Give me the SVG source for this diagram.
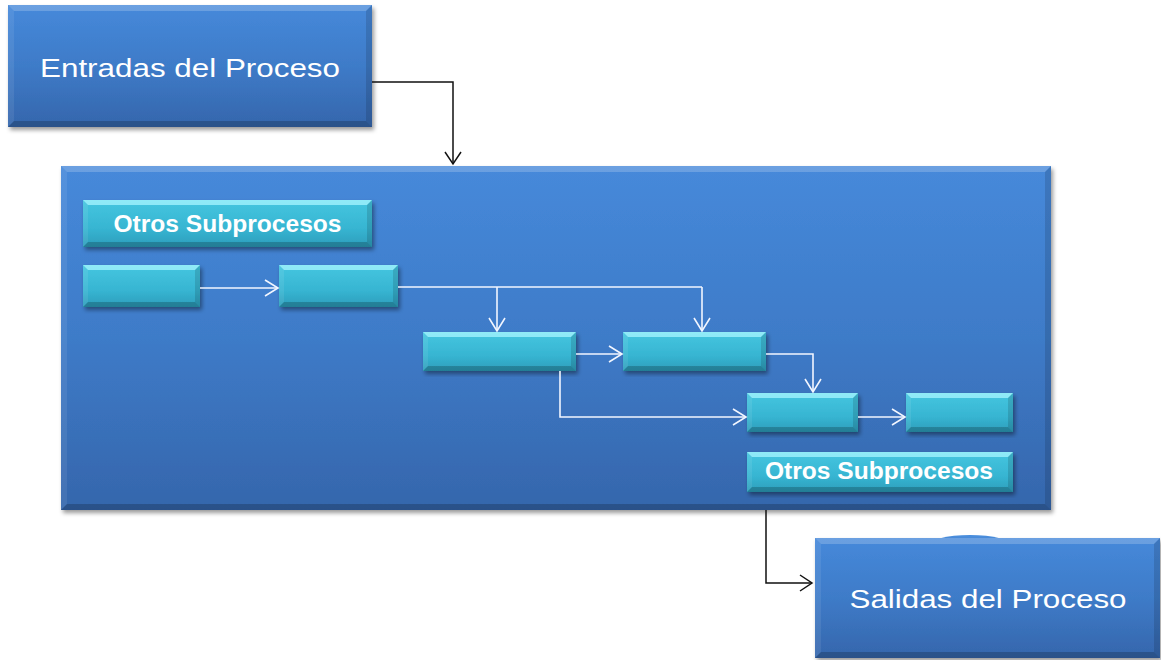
<svg xmlns="http://www.w3.org/2000/svg" width="1161" height="660" viewBox="0 0 1161 660">
  <defs>
    <linearGradient id="gBlue" x1="0" y1="0" x2="0" y2="1">
      <stop offset="0" stop-color="#4689DA"/>
      <stop offset="0.5" stop-color="#3E7BC8"/>
      <stop offset="1" stop-color="#3566AC"/>
    </linearGradient>
    <linearGradient id="gCyan" x1="0" y1="0" x2="0" y2="1">
      <stop offset="0" stop-color="#45C6E0"/>
      <stop offset="0.6" stop-color="#37B5D2"/>
      <stop offset="1" stop-color="#2C9DBB"/>
    </linearGradient>
    <filter id="shadow" x="-5%" y="-10%" width="110%" height="125%">
      <feDropShadow dx="2" dy="3" stdDeviation="2" flood-color="#000" flood-opacity="0.4"/>
    </filter>
    <marker id="arrowK" viewBox="-14 -9 16 18" markerWidth="16" markerHeight="18" refX="0" refY="0" orient="auto" markerUnits="userSpaceOnUse">
      <path d="M-12,-8 L0,0 L-12,8" fill="none" stroke="#111" stroke-width="1.5"/>
    </marker>
    <marker id="arrowW" viewBox="-15 -10 17 20" markerWidth="17" markerHeight="20" refX="0" refY="0" orient="auto" markerUnits="userSpaceOnUse">
      <path d="M-13,-8 L0,0 L-13,8" fill="none" stroke="#F2F6FF" stroke-width="1.6"/>
    </marker>
  </defs>
  <style>
    .blue { fill: url(#gBlue); }
    .cyan { fill: url(#gCyan); }
    .sh { filter: url(#shadow); }
    .bt { fill: #FFFFFF; fill-opacity: 0.20; }
    .bl { fill: #FFFFFF; fill-opacity: 0.08; }
    .br { fill: #000000; fill-opacity: 0.13; }
    .bb { fill: #000000; fill-opacity: 0.20; }
    .cbt { fill: #A8F6FF; fill-opacity: 0.75; }
    .big { font-family: "Liberation Sans", Arial, sans-serif; font-size: 26.5px; fill: #FFFFFF; text-anchor: middle; }
    .sub { font-family: "Liberation Sans", Arial, sans-serif; font-size: 23px; font-weight: bold; fill: #FFFFFF; text-anchor: middle; }
    .lk { fill: none; stroke: #111; stroke-width: 1.5; marker-end: url(#arrowK); }
    .lw { fill: none; stroke: #F2F6FF; stroke-width: 1.6; }
    .lwa { fill: none; stroke: #F2F6FF; stroke-width: 1.6; marker-end: url(#arrowW); }
  </style>

  <!-- input box -->
  <g id="entradas">
    <rect class="blue sh" x="8" y="5" width="364" height="122"/>
    <polygon class="bt" points="8,5 372,5 366,11 14,11"/>
    <polygon class="bl" points="8,5 14,11 14,121 8,127"/>
    <polygon class="br" points="372,5 372,127 366,121 366,11"/>
    <polygon class="bb" points="8,127 372,127 366,121 14,121"/>
    <text class="big" x="190" y="77" textLength="300" lengthAdjust="spacingAndGlyphs">Entradas del Proceso</text>
  </g>

  <!-- process container -->
  <g id="proceso">
    <rect class="blue sh" x="61" y="166" width="990" height="344"/>
    <polygon class="bt" points="61,166 1051,166 1045,172 67,172"/>
    <polygon class="bl" points="61,166 67,172 67,504 61,510"/>
    <polygon class="br" points="1051,166 1051,510 1045,504 1045,172"/>
    <polygon class="bb" points="61,510 1051,510 1045,504 67,504"/>
  </g>

  <!-- output box -->
  <g id="salidas">
    <ellipse cx="970" cy="546" rx="42" ry="11" fill="#4A8EDD"/>
    <rect class="blue sh" x="815" y="538" width="345" height="120"/>
    <polygon class="bt" points="815,538 1160,538 1154,544 821,544"/>
    <polygon class="bl" points="815,538 821,544 821,652 815,658"/>
    <polygon class="br" points="1160,538 1160,658 1154,652 1154,544"/>
    <polygon class="bb" points="815,658 1160,658 1154,652 821,652"/>
    <text class="big" x="988" y="608" textLength="277" lengthAdjust="spacingAndGlyphs">Salidas del Proceso</text>
  </g>

  <!-- subprocess boxes -->
  <g id="otros-1">
    <rect class="cyan sh" x="83" y="200" width="289" height="47"/>
    <polygon class="cbt" points="83,200 372,200 367,205 88,205"/>
    <polygon class="bl" points="83,200 88,205 88,242 83,247"/>
    <polygon class="br" points="372,200 372,247 367,242 367,205"/>
    <polygon class="bb" points="83,247 372,247 367,242 88,242"/>
    <text class="sub" x="227.5" y="232" textLength="228" lengthAdjust="spacingAndGlyphs">Otros Subprocesos</text>
  </g>

  <g id="paso-1">
    <rect class="cyan sh" x="83" y="265" width="117" height="42"/>
    <polygon class="cbt" points="83,265 200,265 195,270 88,270"/>
    <polygon class="bl" points="83,265 88,270 88,302 83,307"/>
    <polygon class="br" points="200,265 200,307 195,302 195,270"/>
    <polygon class="bb" points="83,307 200,307 195,302 88,302"/>
  </g>

  <g id="paso-2">
    <rect class="cyan sh" x="279" y="265" width="119" height="42"/>
    <polygon class="cbt" points="279,265 398,265 393,270 284,270"/>
    <polygon class="bl" points="279,265 284,270 284,302 279,307"/>
    <polygon class="br" points="398,265 398,307 393,302 393,270"/>
    <polygon class="bb" points="279,307 398,307 393,302 284,302"/>
  </g>

  <g id="paso-3">
    <rect class="cyan sh" x="423" y="332" width="153" height="39"/>
    <polygon class="cbt" points="423,332 576,332 571,337 428,337"/>
    <polygon class="bl" points="423,332 428,337 428,366 423,371"/>
    <polygon class="br" points="576,332 576,371 571,366 571,337"/>
    <polygon class="bb" points="423,371 576,371 571,366 428,366"/>
  </g>

  <g id="paso-4">
    <rect class="cyan sh" x="623" y="332" width="143" height="39"/>
    <polygon class="cbt" points="623,332 766,332 761,337 628,337"/>
    <polygon class="bl" points="623,332 628,337 628,366 623,371"/>
    <polygon class="br" points="766,332 766,371 761,366 761,337"/>
    <polygon class="bb" points="623,371 766,371 761,366 628,366"/>
  </g>

  <g id="paso-5">
    <rect class="cyan sh" x="747" y="393" width="111" height="39"/>
    <polygon class="cbt" points="747,393 858,393 853,398 752,398"/>
    <polygon class="bl" points="747,393 752,398 752,427 747,432"/>
    <polygon class="br" points="858,393 858,432 853,427 853,398"/>
    <polygon class="bb" points="747,432 858,432 853,427 752,427"/>
  </g>

  <g id="paso-6">
    <rect class="cyan sh" x="906" y="393" width="107" height="39"/>
    <polygon class="cbt" points="906,393 1013,393 1008,398 911,398"/>
    <polygon class="bl" points="906,393 911,398 911,427 906,432"/>
    <polygon class="br" points="1013,393 1013,432 1008,427 1008,398"/>
    <polygon class="bb" points="906,432 1013,432 1008,427 911,427"/>
  </g>

  <g id="otros-2">
    <rect class="cyan sh" x="747" y="452" width="266" height="40"/>
    <polygon class="cbt" points="747,452 1013,452 1008,457 752,457"/>
    <polygon class="bl" points="747,452 752,457 752,487 747,492"/>
    <polygon class="br" points="1013,452 1013,492 1008,487 1008,457"/>
    <polygon class="bb" points="747,492 1013,492 1008,487 752,487"/>
    <text class="sub" x="879" y="479" textLength="228" lengthAdjust="spacingAndGlyphs">Otros Subprocesos</text>
  </g>

  <!-- connectors -->
  <g id="connectors">
    <path class="lk" d="M372,82 H453 V164"/>
    <path class="lk" d="M766,510 V583 H812"/>
    <path class="lwa" d="M200,288 H278"/>
    <path class="lw" d="M398,287 H702"/>
    <path class="lwa" d="M497,287 V331"/>
    <path class="lwa" d="M702,287 V331"/>
    <path class="lwa" d="M576,354 H622"/>
    <path class="lwa" d="M766,354 H813 V392"/>
    <path class="lwa" d="M858,417 H905"/>
    <path class="lwa" d="M560,371 V417 H746"/>
  </g>
</svg>
